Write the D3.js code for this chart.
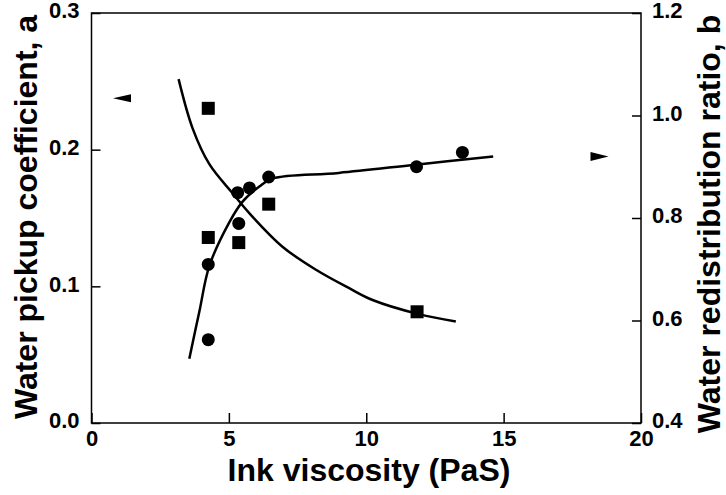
<!DOCTYPE html>
<html lang="en">
<head>
<meta charset="utf-8">
<title>Water pickup vs ink viscosity</title>
<script src="https://cdn.jsdelivr.net/npm/d3@7"></script>
<style>
  body { margin: 0; background: #fff; }
  text { font-family: "Liberation Sans", Arial, Helvetica, sans-serif; font-weight: bold; fill: #000; }
  .tick text { font-size: 22px; }
  .tick line { stroke: #000; stroke-width: 1.5px; }
  .title { font-size: 32px; }
</style>
</head>
<body>
<script>
// Data
var viscA = [4.25, 4.25, 5.36, 5.32, 5.75, 6.45, 11.83, 13.5];      // circles, left axis
var pickupA = [0.061, 0.116, 0.146, 0.1685, 0.172, 0.180, 0.1875, 0.198];
var viscB = [4.25, 4.25, 5.36, 6.45, 11.85];                          // squares, right axis
var ratioB = [1.014, 0.762, 0.752, 0.827, 0.617];

// fitted curves (traced)
var fitAx = [3.56, 3.93, 4.29, 5.02, 5.5, 6.11, 6.6, 9.0, 11.8, 14.62];
var fitAy = [0.047, 0.082, 0.115, 0.147, 0.162, 0.173, 0.179, 0.183, 0.189, 0.195];
var fitBx = [3.17, 3.68, 4.29, 5.14, 5.75, 6.95, 8.17, 9.38, 10.23, 11.87, 13.26];
var fitBy = [1.071, 0.975, 0.905, 0.848, 0.809, 0.744, 0.699, 0.663, 0.640, 0.613, 0.598];

var xTicks = [0, 5, 10, 15, 20];
var aTicks = [0.0, 0.1, 0.2, 0.3];
var bTicks = [0.4, 0.6, 0.8, 1.0, 1.2];

var w = 726, h = 495;
var mLeft = 91.5, mRight = 641, mTop = 13, mBottom = 423;

var svg = d3.select("body").append("svg")
  .attr("width", w)
  .attr("height", h);

var x = d3.scaleLinear().domain([0, 20]).range([mLeft, mRight]);
var yA = d3.scaleLinear().domain([0, 0.3]).range([mBottom, mTop]);
var yB = d3.scaleLinear().domain([0.4, 1.2]).range([mBottom, mTop]);

// axes, ticks pointing inward
var xAxis = svg.append("g")
  .attr("transform", "translate(0," + mBottom + ")")
  .call(d3.axisBottom(x).tickValues(xTicks).tickSizeInner(-10).tickSizeOuter(0).tickPadding(7.5).tickFormat(d3.format("d")));

var aAxis = svg.append("g")
  .attr("transform", "translate(" + mLeft + ",0)")
  .call(d3.axisLeft(yA).tickValues(aTicks).tickSizeInner(-9).tickSizeOuter(0).tickPadding(12).tickFormat(d3.format(".1f")));

var bAxis = svg.append("g")
  .attr("transform", "translate(" + mRight + ",0)")
  .call(d3.axisRight(yB).tickValues(bTicks).tickSizeInner(-9).tickSizeOuter(0).tickPadding(11).tickFormat(d3.format(".1f")));

svg.selectAll(".domain").remove();
aAxis.selectAll("text").attr("dy", "0.22em");
bAxis.selectAll("text").attr("dy", "0.22em");
svg.selectAll(".tick text").attr("fill", "#000");

// frame
svg.append("rect")
  .attr("x", mLeft).attr("y", mTop)
  .attr("width", mRight - mLeft).attr("height", mBottom - mTop)
  .attr("fill", "none")
  .attr("stroke", "#000")
  .attr("stroke-width", 1.5);

// curves
var lineA = d3.line()
  .x(function(d, i) { return x(fitAx[i]); })
  .y(function(d) { return yA(d); })
  .curve(d3.curveCatmullRom.alpha(0.5));

var lineB = d3.line()
  .x(function(d, i) { return x(fitBx[i]); })
  .y(function(d) { return yB(d); })
  .curve(d3.curveCatmullRom.alpha(0.5));

svg.append("path")
  .attr("d", lineA(fitAy))
  .attr("fill", "none")
  .attr("stroke", "#000")
  .attr("stroke-width", 2.5);

svg.append("path")
  .attr("d", lineB(fitBy))
  .attr("fill", "none")
  .attr("stroke", "#000")
  .attr("stroke-width", 2.5);

// points
svg.selectAll("circle.a")
  .data(pickupA)
  .enter()
  .append("circle")
  .attr("class", "a")
  .attr("cx", function(d, i) { return x(viscA[i]); })
  .attr("cy", function(d) { return yA(d); })
  .attr("r", 6.5)
  .attr("fill", "#000");

svg.selectAll("rect.b")
  .data(ratioB)
  .enter()
  .append("rect")
  .attr("class", "b")
  .attr("x", function(d, i) { return x(viscB[i]) - 6.5; })
  .attr("y", function(d) { return yB(d) - 6.5; })
  .attr("width", 13)
  .attr("height", 13)
  .attr("fill", "#000");

// axis indicator arrows
var ax = x(1.11), ay = yA(0.2377);
svg.append("path")
  .attr("d", "M" + (ax - 9) + "," + ay + "L" + (ax + 9) + "," + (ay - 4) + "L" + (ax + 9) + "," + (ay + 4) + "Z")
  .attr("fill", "#000");

var bx = x(18.49), by = yB(0.92);
svg.append("path")
  .attr("d", "M" + (bx + 9) + "," + by + "L" + (bx - 9) + "," + (by - 4.5) + "L" + (bx - 9) + "," + (by + 4.5) + "Z")
  .attr("fill", "#000");

// titles
svg.append("text")
  .attr("class", "title")
  .attr("x", 369)
  .attr("y", 481)
  .attr("text-anchor", "middle")
  .text("Ink viscosity (PaS)");

svg.append("text")
  .attr("class", "title")
  .attr("transform", "translate(37,217) rotate(-90)")
  .attr("text-anchor", "middle")
  .text("Water pickup coefficient, a");

svg.append("text")
  .attr("class", "title")
  .attr("transform", "translate(720,224) rotate(-90)")
  .attr("text-anchor", "middle")
  .text("Water redistribution ratio, b");
</script>
</body>
</html>
